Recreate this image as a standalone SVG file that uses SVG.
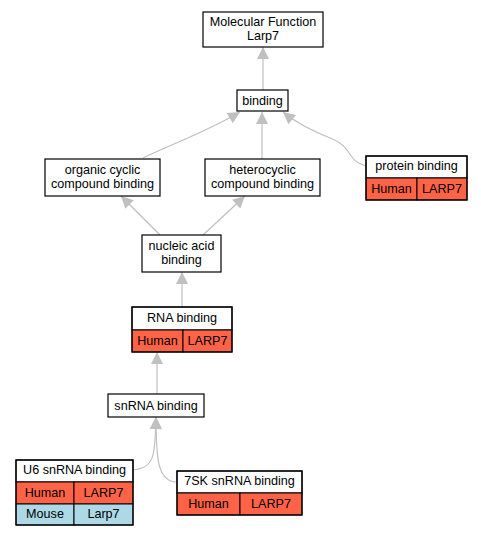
<svg xmlns="http://www.w3.org/2000/svg" width="481" height="536" viewBox="0 0 481 536">
<defs>
<marker id="ah" viewBox="0 0 10 10" refX="10" refY="5" markerWidth="15" markerHeight="12" markerUnits="userSpaceOnUse" orient="auto">
<path d="M0,0 L10,5 L0,10 Z" fill="#c0c0c0"/>
</marker>
<style>
.n{fill:#fff;stroke:#000;stroke-width:1.2}
.h{fill:#ff6347;stroke:#000;stroke-width:1}
.m{fill:#add8e6;stroke:#000;stroke-width:1}
text{font-family:"Liberation Sans",Arial,sans-serif;font-size:12.6px;text-anchor:middle;fill:#000}
.e{fill:none;stroke:#c0c0c0;stroke-width:1.2;marker-end:url(#ah)}
</style>
</defs>
<rect width="481" height="536" fill="#fff"/>
<g id="connectors">
<path class="e" d="M263,90 L263,47"/>
<path class="e" d="M143,158 C170,145 210,130 240,112"/>
<path class="e" d="M262,159 L262,112"/>
<path class="e" d="M366,166 C345,160 355,148 330,138 C310,130 295,122 283,112"/>
<path class="e" d="M160,235 L121,196"/>
<path class="e" d="M203,235 L245,196"/>
<path class="e" d="M182,307 L182,272"/>
<path class="e" d="M157,394 L157,352"/>
<path class="e" d="M133,470 C155,468 155,455 156,417"/>
<path class="e" d="M177,482 C158,482 156,460 156,417"/>
</g>
<g id="mf">
<rect class="n" x="203" y="12" width="120" height="35"/>
<text x="263" y="26">Molecular Function</text>
<text x="263" y="40">Larp7</text>
</g>
<g id="binding">
<rect class="n" x="237" y="90" width="51" height="21"/>
<text x="262.5" y="105">binding</text>
</g>
<g id="organic">
<rect class="n" x="45" y="159" width="115" height="37"/>
<text x="102.5" y="174">organic cyclic</text>
<text x="102.5" y="188">compound binding</text>
</g>
<g id="hetero">
<rect class="n" x="205" y="159" width="115" height="37"/>
<text x="262.5" y="174">heterocyclic</text>
<text x="262.5" y="188">compound binding</text>
</g>
<g id="protein">
<rect class="n" x="366" y="156" width="101" height="22"/>
<text x="416.5" y="170">protein binding</text>
<rect class="h" x="366" y="178" width="51" height="22"/>
<rect class="h" x="417" y="178" width="50" height="22"/>
<text x="391.5" y="193">Human</text>
<text x="442" y="193">LARP7</text>
<rect x="366" y="156" width="101" height="44" fill="none" stroke="#000" stroke-width="1.2"/>
</g>
<g id="nucleic">
<rect class="n" x="142" y="235" width="79" height="37"/>
<text x="181.5" y="250">nucleic acid</text>
<text x="181.5" y="264">binding</text>
</g>
<g id="rna">
<rect class="n" x="132" y="307" width="100" height="23"/>
<text x="182" y="322">RNA binding</text>
<rect class="h" x="132" y="330" width="51" height="22"/>
<rect class="h" x="183" y="330" width="49" height="22"/>
<text x="157.5" y="345">Human</text>
<text x="207.5" y="345">LARP7</text>
<rect x="132" y="307" width="100" height="45" fill="none" stroke="#000" stroke-width="1.2"/>
</g>
<g id="snrna">
<rect class="n" x="108" y="394" width="96" height="23"/>
<text x="156" y="410">snRNA binding</text>
</g>
<g id="u6">
<rect class="n" x="16" y="460" width="117" height="22"/>
<text x="74.5" y="474">U6 snRNA binding</text>
<rect class="h" x="16" y="482" width="58" height="22"/>
<rect class="h" x="74" y="482" width="59" height="22"/>
<text x="45" y="497">Human</text>
<text x="103.5" y="497">LARP7</text>
<rect class="m" x="16" y="504" width="58" height="21"/>
<rect class="m" x="74" y="504" width="59" height="21"/>
<text x="45" y="518">Mouse</text>
<text x="103.5" y="518">Larp7</text>
<rect x="16" y="460" width="117" height="65" fill="none" stroke="#000" stroke-width="1.2"/>
</g>
<g id="sk7">
<rect class="n" x="177" y="471" width="125" height="22"/>
<text x="239.5" y="485">7SK snRNA binding</text>
<rect class="h" x="177" y="493" width="63" height="22"/>
<rect class="h" x="240" y="493" width="62" height="22"/>
<text x="208.5" y="508">Human</text>
<text x="271" y="508">LARP7</text>
<rect x="177" y="471" width="125" height="44" fill="none" stroke="#000" stroke-width="1.2"/>
</g>
</svg>
